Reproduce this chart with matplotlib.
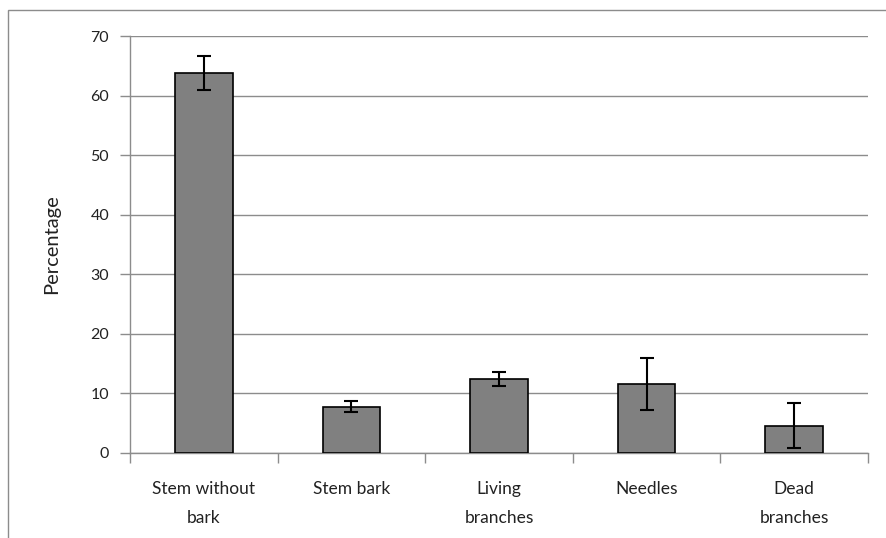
import matplotlib
matplotlib.use("Agg")
import matplotlib.pyplot as plt
from matplotlib.patches import Rectangle

categories = ["Stem without\nbark", "Stem bark", "Living\nbranches", "Needles", "Dead\nbranches"]
values = [63.8, 7.8, 12.4, 11.6, 4.6]
errors = [2.9, 1.0, 1.2, 4.4, 3.8]
yticks = [0, 10, 20, 30, 40, 50, 60, 70]

plt.rcParams['font.family'] = ['Lato', 'DejaVu Sans']

fig = plt.figure(figsize=(8.87, 5.38), dpi=100)
ax = fig.add_axes([130/887, 1-453/538, (868-130)/887, (453-36)/538])

x = list(range(len(categories)))
ax.bar(x, values, width=0.39, color="#808080", edgecolor="black", linewidth=1.2, zorder=3)
ax.errorbar(x, values, yerr=errors, fmt="none", ecolor="black", elinewidth=1.5,
            capsize=5, capthick=1.5, zorder=4)

ax.set_xlim(-0.5, len(categories) - 0.5)
ax.set_ylim(0, 70)
ax.set_yticks(yticks)
ax.set_yticklabels([str(t) for t in yticks], fontsize=11.5, color="#222222")
ax.yaxis.grid(True, color="#8c8c8c", linewidth=1.0, zorder=0)
ax.set_axisbelow(True)

ax.set_xticks([i + 0.5 for i in range(-1, len(categories))])
ax.set_xticklabels([])
ax.set_xticks(x, minor=True)
ax.set_xticklabels(categories, minor=True, fontsize=12.5, color="#222222", linespacing=2.0)
ax.tick_params(axis="x", which="minor", length=0, pad=20)
ax.tick_params(axis="x", which="major", length=7, color="#8c8c8c", width=1.0)
ax.tick_params(axis="y", length=7, color="#8c8c8c", width=1.0, pad=8)

for s in ["top", "right"]:
    ax.spines[s].set_visible(False)
for s in ["left", "bottom"]:
    ax.spines[s].set_color("#8c8c8c")
    ax.spines[s].set_linewidth(1.0)

ax.set_ylabel("Percentage", fontsize=14.5, color="#222222", labelpad=22)

fig.patches.append(Rectangle((8/887, -0.1), 1.0, 1.1 - 10/538, transform=fig.transFigure,
                             fill=False, edgecolor="#8c8c8c", linewidth=1.0))

fig.savefig("out.png", dpi=100)
